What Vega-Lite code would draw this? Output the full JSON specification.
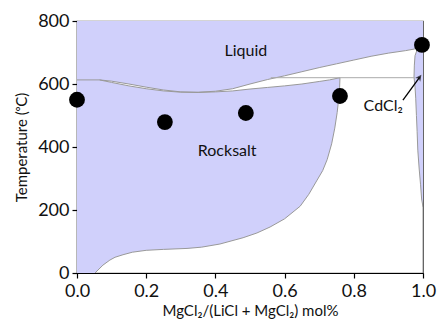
{
  "$schema": "https://vega.github.io/schema/vega-lite/v6.json",
  "width": 346,
  "height": 252,
  "autosize": "none",
  "padding": {"left": 77, "top": 21, "right": 17, "bottom": 49},
  "config": {
    "view": {"stroke": "#555", "strokeWidth": 1.2},
    "font": "Lato",
    "axis": {
      "domainColor": "#000", "domainWidth": 1.2, "tickColor": "#000", "tickWidth": 1.2, "tickSize": 5,
      "grid": false, "labelFont": "Lato", "labelFontSize": 18, "labelColor": "#111",
      "titleFont": "Lato", "titleFontSize": 15, "titleFontWeight": "normal", "titleColor": "#111",
      "labelFlush": false, "labelOverlap": false
    }
  },
  "datasets": {
    "regions": [
      {"region": "liq", "i": 0, "x": 0, "T": 800},
      {"region": "liq", "i": 1, "x": 0, "T": 613},
      {"region": "liq", "i": 2, "x": 0.065, "T": 613},
      {"region": "liq", "i": 3, "x": 0.1, "T": 609},
      {"region": "liq", "i": 4, "x": 0.15, "T": 600},
      {"region": "liq", "i": 5, "x": 0.2, "T": 590},
      {"region": "liq", "i": 6, "x": 0.25, "T": 581},
      {"region": "liq", "i": 7, "x": 0.3, "T": 575},
      {"region": "liq", "i": 8, "x": 0.35, "T": 574},
      {"region": "liq", "i": 9, "x": 0.4, "T": 577},
      {"region": "liq", "i": 10, "x": 0.45, "T": 585},
      {"region": "liq", "i": 11, "x": 0.5, "T": 600},
      {"region": "liq", "i": 12, "x": 0.55, "T": 614},
      {"region": "liq", "i": 13, "x": 0.6, "T": 626},
      {"region": "liq", "i": 14, "x": 0.65, "T": 639},
      {"region": "liq", "i": 15, "x": 0.7, "T": 652},
      {"region": "liq", "i": 16, "x": 0.75, "T": 664},
      {"region": "liq", "i": 17, "x": 0.8, "T": 676},
      {"region": "liq", "i": 18, "x": 0.85, "T": 688},
      {"region": "liq", "i": 19, "x": 0.9, "T": 698},
      {"region": "liq", "i": 20, "x": 0.95, "T": 706},
      {"region": "liq", "i": 21, "x": 0.975, "T": 711},
      {"region": "liq", "i": 22, "x": 1.0, "T": 722},
      {"region": "liq", "i": 23, "x": 1.0, "T": 800},

      {"region": "rs", "i": 0, "x": 0, "T": 0},
      {"region": "rs", "i": 1, "x": 0, "T": 613},
      {"region": "rs", "i": 2, "x": 0.065, "T": 613},
      {"region": "rs", "i": 3, "x": 0.1, "T": 605},
      {"region": "rs", "i": 4, "x": 0.15, "T": 594},
      {"region": "rs", "i": 5, "x": 0.2, "T": 585},
      {"region": "rs", "i": 6, "x": 0.25, "T": 578},
      {"region": "rs", "i": 7, "x": 0.3, "T": 574},
      {"region": "rs", "i": 8, "x": 0.35, "T": 573},
      {"region": "rs", "i": 9, "x": 0.4, "T": 575},
      {"region": "rs", "i": 10, "x": 0.45, "T": 578},
      {"region": "rs", "i": 11, "x": 0.5, "T": 584},
      {"region": "rs", "i": 12, "x": 0.55, "T": 589},
      {"region": "rs", "i": 13, "x": 0.6, "T": 594},
      {"region": "rs", "i": 14, "x": 0.65, "T": 600},
      {"region": "rs", "i": 15, "x": 0.7, "T": 608},
      {"region": "rs", "i": 16, "x": 0.73, "T": 613},
      {"region": "rs", "i": 17, "x": 0.76, "T": 620},
      {"region": "rs", "i": 18, "x": 0.759, "T": 590},
      {"region": "rs", "i": 19, "x": 0.756, "T": 550},
      {"region": "rs", "i": 20, "x": 0.752, "T": 510},
      {"region": "rs", "i": 21, "x": 0.745, "T": 460},
      {"region": "rs", "i": 22, "x": 0.736, "T": 410},
      {"region": "rs", "i": 23, "x": 0.723, "T": 360},
      {"region": "rs", "i": 24, "x": 0.71, "T": 325},
      {"region": "rs", "i": 25, "x": 0.694, "T": 295},
      {"region": "rs", "i": 26, "x": 0.67, "T": 250},
      {"region": "rs", "i": 27, "x": 0.645, "T": 212},
      {"region": "rs", "i": 28, "x": 0.6, "T": 172},
      {"region": "rs", "i": 29, "x": 0.558, "T": 146},
      {"region": "rs", "i": 30, "x": 0.52, "T": 127},
      {"region": "rs", "i": 31, "x": 0.48, "T": 112},
      {"region": "rs", "i": 32, "x": 0.413, "T": 92},
      {"region": "rs", "i": 33, "x": 0.36, "T": 82},
      {"region": "rs", "i": 34, "x": 0.318, "T": 78},
      {"region": "rs", "i": 35, "x": 0.25, "T": 75},
      {"region": "rs", "i": 36, "x": 0.2, "T": 72},
      {"region": "rs", "i": 37, "x": 0.16, "T": 66},
      {"region": "rs", "i": 38, "x": 0.133, "T": 58},
      {"region": "rs", "i": 39, "x": 0.11, "T": 50},
      {"region": "rs", "i": 40, "x": 0.095, "T": 41},
      {"region": "rs", "i": 41, "x": 0.075, "T": 25},
      {"region": "rs", "i": 42, "x": 0.052, "T": 0},

      {"region": "cd", "i": 0, "x": 1.0, "T": 722},
      {"region": "cd", "i": 1, "x": 0.985, "T": 715},
      {"region": "cd", "i": 2, "x": 0.977, "T": 690},
      {"region": "cd", "i": 3, "x": 0.975, "T": 660},
      {"region": "cd", "i": 4, "x": 0.974, "T": 622},
      {"region": "cd", "i": 5, "x": 0.977, "T": 590},
      {"region": "cd", "i": 6, "x": 0.979, "T": 555},
      {"region": "cd", "i": 7, "x": 0.981, "T": 500},
      {"region": "cd", "i": 8, "x": 0.983, "T": 450},
      {"region": "cd", "i": 9, "x": 0.985, "T": 390},
      {"region": "cd", "i": 10, "x": 0.989, "T": 330},
      {"region": "cd", "i": 11, "x": 0.993, "T": 280},
      {"region": "cd", "i": 12, "x": 0.996, "T": 235},
      {"region": "cd", "i": 13, "x": 1.0, "T": 210}
    ],
    "hline": [
      {"x": 0.56, "T": 620, "x2": 0.975}
    ],
    "points": [
      {"x": 0.0, "T": 550},
      {"x": 0.254, "T": 479},
      {"x": 0.488, "T": 508},
      {"x": 0.76, "T": 562},
      {"x": 0.997, "T": 724}
    ],
    "labels": [
      {"x": 0.488, "T": 705, "text": "Liquid"},
      {"x": 0.434, "T": 388, "text": "Rocksalt"},
      {"x": 0.885, "T": 531, "text": "CdCl₂"}
    ],
    "arrow": [
      {"x": 0.942, "T": 549, "x2": 0.99, "T2": 621}
    ],
    "arrowhead": [
      {"x": 0.99, "T": 621}
    ]
  },
  "layer": [
    {
      "data": {"name": "regions"},
      "mark": {"type": "line", "fill": "#d0d0fb", "stroke": null, "strokeWidth": 0, "clip": true},
      "encoding": {
        "x": {"field": "x", "type": "quantitative", "scale": {"domain": [0, 1], "nice": false},
          "axis": {"values": [0, 0.2, 0.4, 0.6, 0.8, 1.0], "format": ".1f", "labelPadding": 4, "title": "MgCl₂/(LiCl + MgCl₂) mol%", "titlePadding": 3}},
        "y": {"field": "T", "type": "quantitative", "scale": {"domain": [0, 800], "nice": false},
          "axis": {"values": [0, 200, 400, 600, 800], "labelPadding": 3, "title": "Temperature (ᵒC)", "titlePadding": 8}},
        "detail": {"field": "region"},
        "order": {"field": "i", "type": "quantitative"}
      }
    },
    {
      "data": {"name": "regions"},
      "transform": [{"filter": "datum.region === 'liq' ? (datum.i >= 1 && datum.i <= 22) : (datum.region === 'rs' ? (datum.i >= 2) : (datum.i >= 1))"}],
      "mark": {"type": "line", "stroke": "#999999", "strokeWidth": 1, "clip": true},
      "encoding": {
        "x": {"field": "x", "type": "quantitative"},
        "y": {"field": "T", "type": "quantitative"},
        "detail": {"field": "region"},
        "order": {"field": "i", "type": "quantitative"}
      }
    },
    {
      "data": {"name": "hline"},
      "mark": {"type": "rule", "stroke": "#aaaaaa", "strokeWidth": 1},
      "encoding": {
        "x": {"field": "x", "type": "quantitative"},
        "x2": {"field": "x2"},
        "y": {"field": "T", "type": "quantitative"}
      }
    },
    {
      "data": {"name": "arrow"},
      "mark": {"type": "rule", "stroke": "#000", "strokeWidth": 1.3},
      "encoding": {
        "x": {"field": "x", "type": "quantitative"},
        "x2": {"field": "x2"},
        "y": {"field": "T", "type": "quantitative"},
        "y2": {"field": "T2"}
      }
    },
    {
      "data": {"name": "arrowhead"},
      "mark": {"type": "point", "shape": "M-1,1L0,-1L1,1L0,0.4Z", "filled": true, "color": "#000", "size": 40, "angle": 36},
      "encoding": {
        "x": {"field": "x", "type": "quantitative"},
        "y": {"field": "T", "type": "quantitative"}
      }
    },
    {
      "data": {"name": "points"},
      "mark": {"type": "circle", "color": "#000", "opacity": 1, "size": 250, "clip": false},
      "encoding": {
        "x": {"field": "x", "type": "quantitative"},
        "y": {"field": "T", "type": "quantitative"}
      }
    },
    {
      "data": {"name": "labels"},
      "mark": {"type": "text", "font": "Lato", "fontSize": 16, "color": "#111", "align": "center", "baseline": "middle"},
      "encoding": {
        "x": {"field": "x", "type": "quantitative"},
        "y": {"field": "T", "type": "quantitative"},
        "text": {"field": "text"}
      }
    }
  ]
}
